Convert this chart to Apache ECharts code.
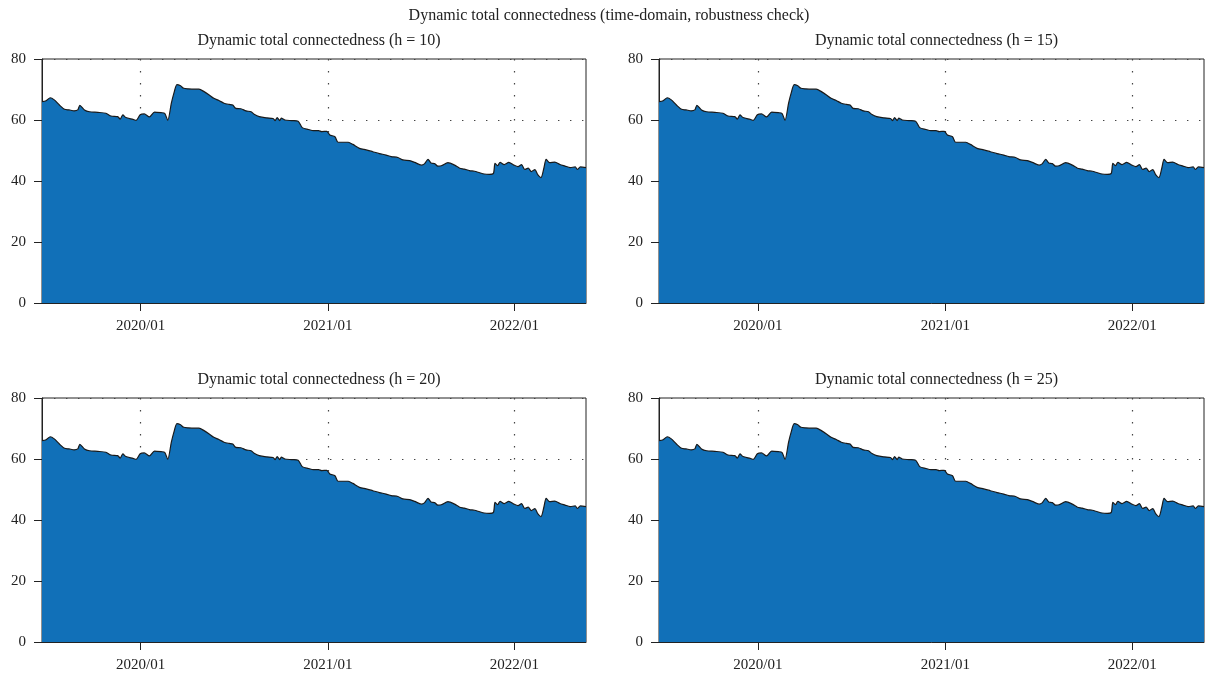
<!DOCTYPE html>
<html>
<head>
<meta charset="utf-8">
<script src="https://cdn.jsdelivr.net/npm/echarts@6/dist/echarts.min.js"></script>
<style>
  html, body { margin: 0; padding: 0; background: #ffffff; }
  #chart { width: 1208px; height: 676px; }
</style>
</head>
<body>
<div id="chart"></div>
<script>
// Observation dates of the rolling-window total connectedness index
const dates = [
  '2019-06-22','2019-06-30','2019-07-08','2019-07-16','2019-07-26','2019-08-05','2019-08-14','2019-08-24',
  '2019-08-31','2019-09-04','2019-09-13','2019-09-23','2019-10-09','2019-10-25','2019-11-04','2019-11-17',
  '2019-11-22','2019-11-27','2019-12-03','2019-12-17','2019-12-23','2019-12-31','2020-01-08','2020-01-18',
  '2020-01-28','2020-02-10','2020-02-17','2020-02-23','2020-03-01','2020-03-06','2020-03-12','2020-03-19',
  '2020-03-25','2020-04-04','2020-04-14','2020-04-24','2020-05-04','2020-05-14','2020-05-23','2020-06-02',
  '2020-06-12','2020-06-22','2020-06-29','2020-07-05','2020-07-15','2020-07-25','2020-08-04','2020-08-10',
  '2020-08-20','2020-09-03','2020-09-16','2020-09-20','2020-09-24','2020-09-29','2020-10-02','2020-10-09',
  '2020-10-22','2020-11-04','2020-11-12','2020-11-24','2020-12-04','2020-12-14','2020-12-20','2020-12-30',
  '2021-01-05','2021-01-15','2021-01-21','2021-01-31','2021-02-10','2021-02-19','2021-03-04','2021-03-17',
  '2021-03-30','2021-04-12','2021-04-25','2021-05-05','2021-05-18','2021-05-28','2021-06-10','2021-06-20',
  '2021-07-03','2021-07-09','2021-07-16','2021-07-22','2021-07-29','2021-08-04','2021-08-11','2021-08-24',
  '2021-09-06','2021-09-16','2021-09-25','2021-10-05','2021-10-15','2021-10-25','2021-11-03','2021-11-13',
  '2021-11-21','2021-11-24','2021-11-29','2021-12-04','2021-12-12','2021-12-21','2021-12-31','2022-01-08',
  '2022-01-15','2022-01-21','2022-01-28','2022-02-03','2022-02-10','2022-02-16','2022-02-22','2022-02-28',
  '2022-03-04','2022-03-11','2022-03-21','2022-03-31','2022-04-10','2022-04-20','2022-04-30','2022-05-04',
  '2022-05-10','2022-05-21'
];

// Total connectedness index (%)
const tci = [
  66.0, 66.3, 67.3, 66.6, 64.9, 63.5, 63.3, 63.0,
  63.3, 64.8, 63.3, 62.7, 62.5, 62.2, 61.3, 61.1,
  60.3, 61.7, 60.8, 60.2, 59.9, 61.7, 62.0, 61.0,
  62.6, 62.4, 62.2, 59.9, 65.5, 68.8, 71.6, 71.2,
  70.4, 70.2, 70.1, 70.1, 69.3, 68.2, 67.1, 66.4,
  65.5, 65.1, 64.9, 63.8, 63.7, 63.0, 62.7, 61.9,
  61.1, 60.7, 60.5, 59.8, 60.8, 59.8, 60.6, 60.0,
  59.8, 59.6, 57.5, 56.9, 56.5, 56.5, 56.2, 56.3,
  55.1, 54.5, 52.7, 52.7, 52.7, 52.0, 50.7, 50.2,
  49.6, 49.0, 48.5, 48.0, 47.7, 46.9, 46.7, 46.1,
  45.2, 45.6, 47.1, 45.9, 45.7, 44.9, 45.0, 46.0,
  45.2, 44.2, 43.9, 43.4, 43.2, 42.7, 42.3, 42.2,
  42.5, 45.8, 45.0, 46.1, 45.4, 46.1, 45.2, 44.7,
  45.4, 43.8, 44.2, 43.1, 43.7, 42.0, 41.1, 44.5,
  47.1, 46.0, 46.2, 45.4, 44.9, 44.4, 44.6, 43.8,
  44.6, 44.4
];

// Forecast horizons of the four panels
const horizons = [10, 15, 20, 25];

// Year marks on the time axis
const yearTicks = ['2020-01-01', '2021-01-01', '2022-01-01'];

const mainTitle = 'Dynamic total connectedness (time-domain, robustness check)';
const panelTitle = h => 'Dynamic total connectedness (h = ' + h + ')';

const toTime = s => {
  const p = s.split('-').map(Number);
  return Date.UTC(p[0], p[1] - 1, p[2]);
};

const seriesData = dates.map((d, i) => [toTime(d), tci[i]]);
const xMin = toTime(dates[0]);
const xMax = toTime(dates[dates.length - 1]);
const tickTimes = yearTicks.map(toTime);

const FONT = '"Liberation Serif", "DejaVu Serif", serif';
const INK = '#222222';

// Panel placement (pixels)
const panels = [
  { left: 42,  top: 59,  width: 544, height: 244 },
  { left: 659, top: 59,  width: 545, height: 244 },
  { left: 42,  top: 398, width: 544, height: 244 },
  { left: 659, top: 398, width: 545, height: 244 }
];

const dotted = { color: '#444444', width: 1.2, type: [1.4, 10.6] };

const fmtMonth = v => {
  const d = new Date(v);
  const m = d.getUTCMonth() + 1;
  return d.getUTCFullYear() + '/' + (m < 10 ? '0' + m : m);
};

const option = {
  animation: false,
  backgroundColor: '#ffffff',
  title: [
    {
      text: mainTitle, left: 604, top: 3, textAlign: 'center',
      textStyle: { fontFamily: FONT, fontSize: 16, fontWeight: 'normal', color: INK }
    }
  ].concat(horizons.map((h, i) => ({
    text: panelTitle(h),
    left: panels[i].left + panels[i].width / 2,
    top: panels[i].top - 31,
    textAlign: 'center',
    textStyle: { fontFamily: FONT, fontSize: 16, fontWeight: 'normal', color: INK }
  }))),
  grid: panels.map(p => ({
    left: p.left, top: p.top, width: p.width, height: p.height,
    show: true, borderColor: INK, borderWidth: 1, containLabel: false
  })),
  xAxis: panels.map((p, i) => ({
    type: 'value',
    gridIndex: i,
    min: xMin,
    max: xMax,
    axisLine: { show: true, lineStyle: { color: INK, width: 1 } },
    axisTick: { show: true, length: 8, customValues: tickTimes, lineStyle: { color: INK } },
    axisLabel: {
      show: true,
      customValues: tickTimes,
      margin: 16,
      fontFamily: FONT, fontSize: 15, color: INK,
      formatter: fmtMonth
    },
    splitLine: { show: true, lineStyle: dotted }
  })),
  yAxis: panels.map((p, i) => ({
    type: 'value',
    gridIndex: i,
    min: 0,
    max: 80,
    interval: 20,
    axisLine: { show: true, lineStyle: { color: INK, width: 1 } },
    axisTick: { show: true, length: 8, lineStyle: { color: INK } },
    axisLabel: { fontFamily: FONT, fontSize: 15, color: INK, margin: 16 },
    splitLine: { show: true, lineStyle: dotted }
  })),
  series: horizons.map((h, i) => ({
    name: panelTitle(h),
    type: 'line',
    xAxisIndex: i,
    yAxisIndex: i,
    data: seriesData,
    showSymbol: false,
    smooth: 0.25,
    lineStyle: { color: '#1a1a1a', width: 1.2 },
    areaStyle: { color: '#1170b8', opacity: 1, origin: 'start' },
    z: 3
  }))
};

const chart = echarts.init(document.getElementById('chart'), null, { renderer: 'canvas' });
chart.setOption(option);
</script>
</body>
</html>
